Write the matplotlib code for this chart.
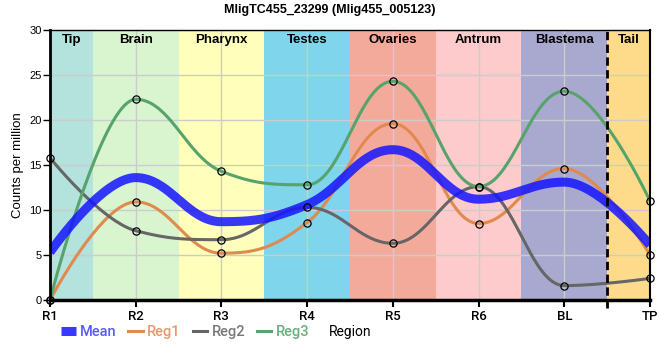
import numpy as np
import matplotlib
matplotlib.use('Agg')
import matplotlib.pyplot as plt
from matplotlib.lines import Line2D

# Data
regions = ['R1', 'R2', 'R3', 'R4', 'R5', 'R6', 'BL', 'TP']
mean = [5.3, 13.6, 8.7, 10.6, 16.7, 11.2, 13.1, 6.1]
reg1 = [0.0, 10.9, 5.2, 8.6, 19.6, 8.5, 14.6, 5.0]
reg2 = [15.8, 7.7, 6.7, 10.3, 6.3, 12.6, 1.6, 2.4]
reg3 = [0.0, 22.3, 14.3, 12.8, 24.3, 12.6, 23.2, 11.0]

tissues = ['Tip', 'Brain', 'Pharynx', 'Testes', 'Ovaries', 'Antrum', 'Blastema', 'Tail']
tissue_spans = [(0, 0.5), (0.5, 1.5), (1.5, 2.5), (2.5, 3.5), (3.5, 4.5),
                (4.5, 5.5), (5.5, 6.5), (6.5, 7)]
tissue_colors = ['#b4e2dc', '#d8f5d0', '#ffffbb', '#7fd5eb', '#f4aa9b',
                 '#fdcbcb', '#a9a9cf', '#fddb8b']


def spline(ys, n=40):
    # highcharts style spline through evenly spaced points
    xs = np.arange(len(ys), dtype=float)
    ys = np.asarray(ys, dtype=float)
    sm = 1.5
    left, right = {}, {}
    for i in range(1, len(ys) - 1):
        x, y = xs[i], ys[i]
        lx = (sm * x + xs[i - 1]) / (sm + 1)
        ly = (sm * y + ys[i - 1]) / (sm + 1)
        rx = (sm * x + xs[i + 1]) / (sm + 1)
        ry = (sm * y + ys[i + 1]) / (sm + 1)
        corr = (ry - ly) * (rx - x) / (rx - lx) + y - ry
        ly += corr
        ry += corr
        if ly > ys[i - 1] and ly > y:
            ly = max(ys[i - 1], y)
            ry = 2 * y - ly
        elif ly < ys[i - 1] and ly < y:
            ly = min(ys[i - 1], y)
            ry = 2 * y - ly
        if ry > ys[i + 1] and ry > y:
            ry = max(ys[i + 1], y)
            ly = 2 * y - ry
        elif ry < ys[i + 1] and ry < y:
            ry = min(ys[i + 1], y)
            ly = 2 * y - ry
        left[i] = (lx, ly)
        right[i] = (rx, ry)
    t = np.linspace(0, 1, n)[:, None]
    out = []
    for i in range(1, len(ys)):
        p0 = np.array([xs[i - 1], ys[i - 1]])
        p1 = np.array(right.get(i - 1, p0))
        p3 = np.array([xs[i], ys[i]])
        p2 = np.array(left.get(i, p3))
        seg = ((1 - t) ** 3) * p0 + 3 * ((1 - t) ** 2) * t * p1 + 3 * (1 - t) * t ** 2 * p2 + t ** 3 * p3
        out.append(seg if i == 1 else seg[1:])
    pts = np.vstack(out)
    return pts[:, 0], pts[:, 1]


fig = plt.figure(figsize=(6.6, 3.6), dpi=100)
ax = fig.add_axes([50 / 660, 60 / 360, 600 / 660, 270 / 360])

for (a, b), c, name in zip(tissue_spans, tissue_colors, tissues):
    ax.axvspan(a, b, color=c, zorder=0.2, lw=0)
    ax.text((a + b) / 2, 28.85, name, ha='center', va='center', fontsize=9.5,
            fontweight='bold', family='Liberation Sans', zorder=5)

ax.set_axisbelow(False)
ax.grid(True, color='#cccccc', lw=1, zorder=0.5)

series = [
    ('Reg1', reg1, '#e08a4e', '#e8996a'),
    ('Reg2', reg2, '#666666', '#787878'),
    ('Reg3', reg3, '#58a36c', '#6aae7c'),
]
handles = []
text_colors = ['#5a5aff']
mx, my = spline(mean)
ax.plot(mx, my, color='#1515ff', alpha=0.85, lw=6.5, zorder=4, solid_capstyle='butt')
handles.append(Line2D([], [], color='#1515ff', alpha=0.85, lw=6.5,
                      solid_capstyle='butt', label='Mean'))
for name, vals, col, tcol in series:
    sx, sy = spline(vals)
    ax.plot(sx, sy, color=col, lw=2.2, zorder=3)
    ax.plot(range(len(vals)), vals, 'o', ms=5.2, mfc='none', mec='black',
            mew=0.9, zorder=6, clip_on=False)
    handles.append(Line2D([], [], color=col, lw=2.2, label=name))
    text_colors.append(tcol)

ax.axvline(6.5, ymin=-0.03, ymax=1, color='black', lw=2, ls=(0, (3, 1.6)),
           zorder=7, clip_on=False)

ax.set_xlim(0, 7)
ax.set_ylim(0, 30)
ax.set_xticks(range(len(regions)))
ax.set_xticklabels(regions, family='Roboto', fontsize=9.5, fontweight='medium')
ax.set_yticks(range(0, 31, 5))
ax.tick_params(axis='y', labelsize=8, length=5, width=1, pad=1)
ax.tick_params(axis='x', length=5, width=1.5, pad=2)
for lab in ax.get_yticklabels():
    lab.set_family('Liberation Sans')

ax.spines['left'].set_linewidth(2)
ax.spines['bottom'].set_linewidth(2.5)
ax.spines['right'].set_linewidth(1.5)
ax.spines['top'].set_linewidth(1)
for s in ax.spines.values():
    s.set_zorder(8)

ax.set_ylabel('Counts per million', fontsize=9.5, family='Liberation Sans', labelpad=4)
fig.text(350 / 660, 1 - 332 / 360, 'Region', ha='center', va='center',
         fontsize=10, family='Roboto')
fig.suptitle('MligTC455_23299 (Mlig455_005123)', y=1 - 10 / 360, va='center',
             fontsize=9, fontweight='bold', family='Liberation Sans')

leg = fig.legend(handles=handles, loc='center left', bbox_to_anchor=(48 / 660, 1 - 332 / 360),
                 ncol=4, frameon=False, handlelength=1.0, handletextpad=0.3,
                 columnspacing=0.8, labelcolor=text_colors,
                 prop={'family': 'Roboto', 'size': 10.5, 'weight': 'medium'})

fig.savefig('out.png', dpi=100)
